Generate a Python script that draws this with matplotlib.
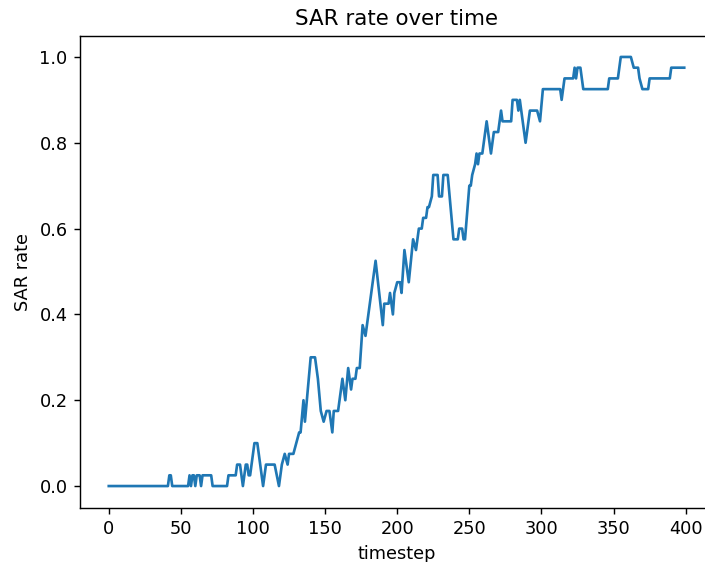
import matplotlib
matplotlib.use("Agg")
import matplotlib.pyplot as plt

# SAR rate sampled at the timesteps where the curve changes direction
timestep = [
    0, 41, 42, 43, 44, 55, 56, 57, 58, 59, 60, 61, 63, 64, 65, 71, 72,
    82, 83, 88, 89, 91, 93, 95, 96, 97, 98, 101, 103, 107, 109, 115, 118,
    120, 122, 124, 125, 128, 130, 132, 133, 135, 136, 140, 143, 145, 147,
    149, 151, 153, 155, 156, 159, 162, 164, 166, 168, 169, 171, 172, 174,
    176, 178, 180, 181, 185, 190, 191, 194, 195, 197, 198, 200, 202, 203,
    205, 208, 211, 213, 215, 217, 218, 220, 221, 222, 224, 225, 228, 229,
    231, 232, 235, 239, 242, 243, 245, 246, 247, 250, 251, 252, 254, 255,
    256, 257, 259, 262, 265, 267, 270, 272, 273, 279, 280, 283, 284, 285,
    289, 292, 297, 299, 301, 313, 314, 316, 322, 323, 324, 325, 327, 329,
    346, 347, 353, 355, 362, 364, 367, 368, 370, 374, 375, 389, 390, 399,
]
sar_rate = [
    0.0, 0.0, 0.025, 0.025, 0.0, 0.0, 0.025, 0.0, 0.025, 0.025, 0.0, 0.025, 0.025, 0.0, 0.025, 0.025, 0.0,
    0.0, 0.025, 0.025, 0.05, 0.05, 0.0, 0.05, 0.05, 0.025, 0.025, 0.1, 0.1, 0.0, 0.05, 0.05, 0.0,
    0.05, 0.075, 0.05, 0.075, 0.075, 0.1, 0.125, 0.125, 0.2, 0.15, 0.3, 0.3, 0.25, 0.175,
    0.15, 0.175, 0.175, 0.125, 0.175, 0.175, 0.25, 0.2, 0.275, 0.225, 0.25, 0.25, 0.275, 0.275,
    0.375, 0.35, 0.4, 0.425, 0.525, 0.375, 0.425, 0.425, 0.45, 0.4, 0.45, 0.475, 0.475, 0.45,
    0.55, 0.475, 0.575, 0.55, 0.6, 0.6, 0.625, 0.625, 0.65, 0.65, 0.675, 0.725, 0.725, 0.675,
    0.675, 0.725, 0.725, 0.575, 0.575, 0.6, 0.6, 0.575, 0.575, 0.7, 0.7, 0.725, 0.75, 0.775,
    0.75, 0.775, 0.775, 0.85, 0.775, 0.825, 0.825, 0.875, 0.85, 0.85, 0.9, 0.9, 0.875, 0.9,
    0.8, 0.875, 0.875, 0.85, 0.925, 0.925, 0.9, 0.95, 0.95, 0.975, 0.95, 0.975, 0.975, 0.925,
    0.925, 0.95, 0.95, 1.0, 1.0, 0.975, 0.975, 0.95, 0.925, 0.925, 0.95, 0.95, 0.975, 0.975,
]

DPI = 128
fig = plt.figure(figsize=(705 / DPI, 562 / DPI), dpi=DPI)
ax = fig.add_axes([80 / 705, 54.5 / 562, 633 / 705, 472 / 562])

ax.plot(timestep, sar_rate)
ax.set_title("SAR rate over time")
ax.set_xlabel("timestep")
ax.set_ylabel("SAR rate")

fig.savefig("out.png", dpi=DPI)
